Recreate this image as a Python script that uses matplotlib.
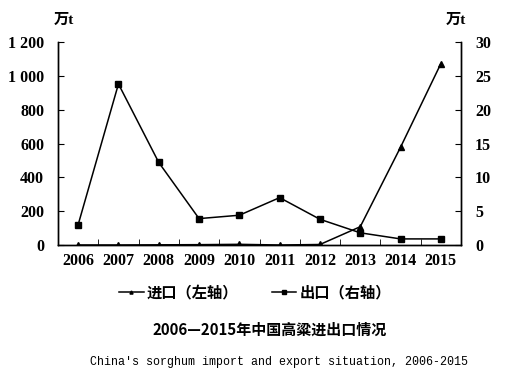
import numpy as np
import matplotlib
matplotlib.use("Agg")
import matplotlib.pyplot as plt

plt.rcParams['font.family'] = ['Liberation Serif', 'Noto Sans CJK SC']

years = ['2006', '2007', '2008', '2009', '2010', '2011', '2012', '2013', '2014', '2015']
# imports (left axis, 万t)
imports = [0, 0, 1, 2, 4, 0, 3, 108, 578, 1072]
# exports (right axis, 万t)
exports = [3.0, 23.8, 12.2, 3.9, 4.4, 7.0, 3.8, 1.8, 0.9, 0.9]

x = np.arange(len(years))

fig = plt.figure(figsize=(5.2, 3.84), dpi=100)
ax = fig.add_axes([58 / 520, 1 - 245 / 384, 403 / 520, 203 / 384])
ax2 = ax.twinx()

l1, = ax.plot(x, imports, color='black', lw=1.1, marker='^', ms=4.5, label='进口（左轴）')
l2, = ax2.plot(x, exports, color='black', lw=1.1, marker='s', ms=5, label='出口（右轴）')

ax.set_xlim(-0.5, 9.5)
ax.set_ylim(0, 1200)
ax2.set_ylim(0, 30)
ax.set_yticks(range(0, 1201, 200))
ax.set_yticklabels(['0', '200', '400', '600', '800', '1 000', '1 200'])
ax2.set_yticks(range(0, 31, 5))

ax.set_xticks(x)
ax.set_xticklabels(years)
ax.set_xticks(np.arange(0.5, 9, 1), minor=True)
ax.tick_params(axis='x', which='major', length=0, pad=6)
ax.tick_params(axis='x', which='minor', direction='in', length=4)
ax.tick_params(axis='y', direction='in', length=4, pad=10)
ax2.tick_params(axis='y', direction='in', length=4, pad=10)

for a in (ax, ax2):
    a.spines['top'].set_visible(False)
    for s in a.spines.values():
        s.set_linewidth(1.0)
    for lab in a.get_xticklabels() + a.get_yticklabels():
        lab.set_fontweight('bold')
        lab.set_fontsize(11.5)

fig.text(54 / 520, 1 - 20 / 384, '万t', fontsize=11, fontweight='bold', va='center', ha='left')
fig.text(446 / 520, 1 - 20 / 384, '万t', fontsize=11, fontweight='bold', va='center', ha='left')

fig.legend(handles=[l1, l2], loc='center', bbox_to_anchor=(255 / 520, 1 - 292 / 384),
           ncol=2, frameon=False, markerscale=0.5, handlelength=1.6, handletextpad=0.2,
           columnspacing=2.2,
           prop={'family': ['Noto Sans CJK SC'], 'weight': 'bold', 'size': 11})

fig.text(270 / 520, 1 - 330 / 384, '2006—2015年中国高粱进出口情况', ha='center', va='center',
         fontsize=10.8, fontweight='bold', family=['Noto Sans CJK SC', 'DejaVu Sans'])
fig.text(279 / 520, 1 - 362 / 384, "China's sorghum import and export situation, 2006-2015",
         ha='center', va='center', fontsize=8.4, family='Liberation Mono')

fig.savefig('out.png', dpi=100)
